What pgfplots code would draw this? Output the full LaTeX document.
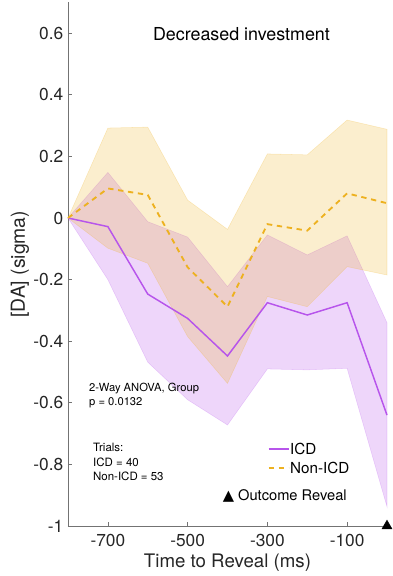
\documentclass[border=0pt]{standalone}
\usepackage{pgfplots}
\pgfplotsset{compat=1.18}
\usepackage{fontspec}
\setmainfont{TeX Gyre Heros}
\newfontfamily\symfont{DejaVu Sans}
\definecolor{icd}{RGB}{183,85,235}
\definecolor{nonicd}{RGB}{237,177,32}
\begin{document}
\begin{tikzpicture}
\useasboundingbox (-51pt,-37.5pt) rectangle (243.75pt,394.5pt);
\begin{axis}[
  at={(0,0)}, anchor=south west,
  scale only axis, width=239.25pt, height=392.7pt,
  xmin=-800, xmax=0, ymin=-1, ymax=0.7,
  axis lines*=left,
  axis line style={draw=black!55, line width=0.5pt},
  xtick={-700,-500,-300,-100}, xticklabels={-700,-500,-300,-100},
  ytick={-1,-0.8,-0.6,-0.4,-0.2,0,0.2,0.4,0.6},
  yticklabels={-1,-0.8,-0.6,-0.4,-0.2,0,0.2,0.4,0.6},
  tick align=inside, major tick length=3pt,
  tick style={draw=black!55, line width=0.5pt},
  ticklabel style={font=\fontsize{13}{15}\selectfont, text=black!85},
  xticklabel style={yshift=-3pt},
  xlabel={Time to Reveal (ms)}, ylabel={[DA] (sigma)},
  xlabel style={at={(axis description cs:0.5,-0.0707)}, anchor=center, font=\fontsize{14}{16}\selectfont, text=black!85},
  ylabel style={at={(axis description cs:-0.1505,0.5)}, anchor=center, font=\fontsize{14.5}{16}\selectfont, text=black!85},
  clip=false,
  legend style={draw=none, fill=none, at={(axis cs:-300,-0.781)}, anchor=west,
    font=\fontsize{11.4}{13}\selectfont, row sep=2.75pt, inner sep=0pt,
    nodes={inner sep=0.5pt, text height=9pt, text depth=1.5pt}},
  legend cell align=left,
  legend image code/.code={\draw[#1] (0pt,0pt) -- (15pt,0pt);},
]
% ICD band
\addplot[fill=icd, fill opacity=0.24, draw=icd, draw opacity=0.25, forget plot] coordinates {
(-800,0) (-700,0.148) (-600,-0.012) (-500,-0.062) (-400,-0.223) (-300,-0.055) (-200,-0.12) (-100,-0.058) (0,-0.34)
(0,-0.937) (-100,-0.488) (-200,-0.493) (-300,-0.49) (-400,-0.672) (-500,-0.59) (-600,-0.468) (-700,-0.2) (-800,0)
} -- cycle;
% Non-ICD band
\addplot[fill=nonicd, fill opacity=0.22, draw=nonicd, draw opacity=0.25, forget plot] coordinates {
(-800,0) (-700,0.292) (-600,0.295) (-500,0.058) (-400,-0.037) (-300,0.208) (-200,0.205) (-100,0.318) (0,0.288)
(0,-0.185) (-100,-0.158) (-200,-0.288) (-300,-0.255) (-400,-0.537) (-500,-0.385) (-600,-0.147) (-700,-0.098) (-800,0)
} -- cycle;
\addplot[icd, line width=1.1pt] coordinates {
(-800,0) (-700,-0.028) (-600,-0.247) (-500,-0.326) (-400,-0.448) (-300,-0.275) (-200,-0.315) (-100,-0.275) (0,-0.64)
};
\addlegendentry{ICD}
\addplot[nonicd, line width=1.4pt, dash pattern=on 4pt off 3.5pt] coordinates {
(-800,0) (-700,0.096) (-600,0.075) (-500,-0.16) (-400,-0.288) (-300,-0.02) (-200,-0.041) (-100,0.08) (0,0.048)
};
\addlegendentry{Non-ICD}
\addplot[only marks, mark=triangle*, mark size=4.3pt, black, forget plot] coordinates {(0,-1)};
\node[anchor=center, font=\fontsize{13.4}{15}\selectfont] at (axis cs:-365,0.597) {Decreased investment};
\node[anchor=west, align=left, font=\fontsize{8.4}{10.5}\selectfont, inner sep=0pt] at (axis cs:-747.5,-0.575) {2-Way ANOVA, Group\\p = 0.0132};
\node[anchor=west, align=left, font=\fontsize{8.6}{10.9}\selectfont, inner sep=0pt] at (axis cs:-737.5,-0.792) {Trials:\\ICD = 40\\Non-ICD = 53};
\node[anchor=west, font=\fontsize{11}{13}\selectfont, inner sep=0pt] at (axis cs:-412.5,-0.903) {{\symfont ▲} Outcome Reveal};
\end{axis}
\end{tikzpicture}
\end{document}
